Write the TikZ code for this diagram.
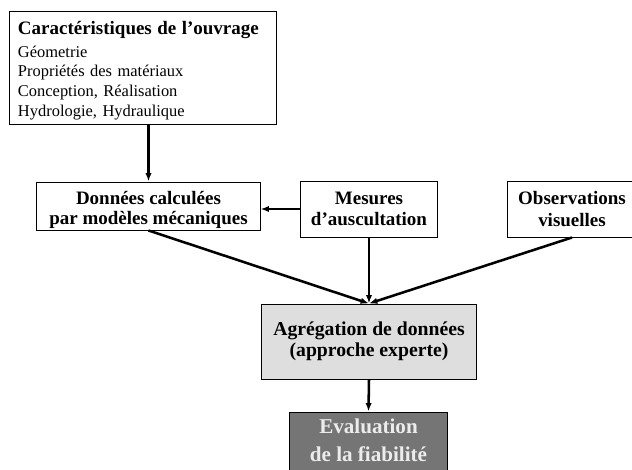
\documentclass[tikz,border=0pt]{standalone}
\usepackage{fontspec}
\setmainfont{Liberation Serif}
\usetikzlibrary{arrows.meta}
\definecolor{agggray}{RGB}{222,222,222}
\definecolor{evalgray}{RGB}{117,117,117}
\definecolor{evaltext}{RGB}{236,236,236}
\begin{document}
\begin{tikzpicture}[x=0.025cm,y=-0.025cm,
	box/.style={draw,line width=0.7pt,inner sep=0pt,align=center,font=\bfseries\fontsize{13.5}{15}\selectfont},
	arr/.style={-{Latex[length=6pt,width=4.5pt]},line width=1.8pt}]

	% frame
	\useasboundingbox (0,0) rectangle (632,469);
	\clip (0,0) rectangle (632,469);

	% ouvrage
	\node[box,minimum width=6.65cm,minimum height=2.8cm,align=left,text width=6.25cm,text height=13.3pt,font=\fontsize{11.7}{14.1}\selectfont] (ouvrage) at (143,68)
		{{\bfseries\fontsize{13.5}{15}\selectfont Caractéristiques de l’ouvrage}\\[2pt]Géometrie\\Propriétés des matériaux\\Conception, Réalisation\\Hydrologie, Hydraulique};

	% sources
	\node[box,minimum width=5.575cm,minimum height=1.2cm,text height=28.8pt,font=\bfseries\fontsize{13.5}{13.7}\selectfont] (donnees) at (148.5,206) {Données calculées\\par modèles mécaniques};
	\node[box,minimum width=3.4cm,minimum height=1.4cm] (mesures) at (369,209) {Mesures\\d’auscultation};
	\node[box,minimum width=3.2cm,minimum height=1.4cm] (obs) at (572,209) {Observations\\visuelles};

	% aggregation
	\node[box,fill=agggray,minimum width=5.35cm,minimum height=1.875cm,font=\bfseries\fontsize{14}{15}\selectfont] (agg) at (369,341.5) {Agrégation de données\\(approche experte)};

	% evaluation
	\node[box,fill=evalgray,text=evaltext,minimum width=3.925cm,minimum height=1.5cm,text height=27.5pt,font=\bfseries\fontsize{15}{20}\selectfont] (eval) at (368.5,442) {Evaluation\\de la fiabilité};

	% arrows
	\draw[arr] (donnees.north |- ouvrage.south) -- (donnees.north);
	\draw[arr] (mesures.west) -- (mesures.west -| donnees.east);
	\draw[arr] (donnees.south) -- (agg.north);
	\draw[arr] (mesures.south) -- (agg.north);
	\draw[arr] (obs.south) -- (agg.north);
	\draw[arr] (agg.south) -- (eval.north);

\end{tikzpicture}
\end{document}
